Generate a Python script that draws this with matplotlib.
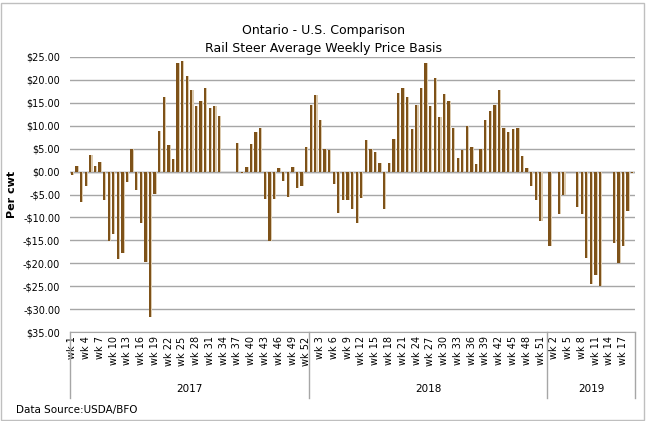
import numpy as np
import matplotlib
matplotlib.use("Agg")
import matplotlib.pyplot as plt
from matplotlib import font_manager
from matplotlib.patches import Rectangle
from matplotlib.lines import Line2D

# Narrow font if we have it, close to the Calibri look of the original
names = {f.name for f in font_manager.fontManager.ttflist}
fam = "Liberation Sans Narrow" if "Liberation Sans Narrow" in names else "DejaVu Sans"
plt.rcParams["font.family"] = [fam, "DejaVu Sans"]

nan = np.nan

# Weekly price basis ($/cwt), Ontario minus U.S.
years = ["2017", "2018", "2019"]
y2017 = [-0.7, 1.2, -6.6, -3.1, 3.6, 1.2, 2.0, -6.2, -15.1, -13.6, -19.0, -17.8, -2.2,
         4.9, -4.0, -11.2, -19.7, -31.7, -4.9, 8.8, 16.2, 5.7, 2.7, 23.6, 24.0, 20.9,
         17.7, 14.2, 15.3, 18.1, 13.8, 14.2, 12.2, nan, nan, nan, 6.2, -0.4, 0.9, 5.9,
         8.6, 9.6, -5.9, -15.1, -5.9, 0.7, -2.0, -5.5, 1.1, -3.6, -3.1, 5.3]
y2018 = [14.4, 16.6, 11.2, 4.9, 4.6, -2.7, -9.0, -6.2, -6.2, -8.1, -11.2, -5.7, 6.8,
         4.9, 4.2, 1.8, -8.1, 1.8, 7.2, 17.2, 18.3, 16.2, 9.2, 14.4, 18.1, 23.6,
         14.2, 20.3, 11.8, 17.0, 15.3, 9.6, 2.9, 4.6, 9.9, 5.3, 1.6, 4.9, 11.2, 13.1,
         14.4, 17.7, 9.4, 8.6, 9.2, 9.6, 3.3, 0.7, -3.1, -6.2, -10.7, nan]
y2019 = [-16.2, nan, -9.2, -5.1, nan, nan, -7.7, -9.2, -18.8, -24.4, -22.5, -25.0,
         nan, nan, -15.5, -19.9, -16.2, -8.6, -0.4]
series = [y2017, y2018, y2019]

ytick_vals = list(range(25, -40, -5))
ytick_labels = ["$25.00", "$20.00", "$15.00", "$10.00", "$5.00", "$0.00", "-$5.00",
                "-$10.00", "-$15.00", "-$20.00", "-$25.00", "-$30.00", "$35.00"]

# Flatten into one category axis
values = []
weeks = []
for s in series:
    values += s
    weeks += list(range(1, len(s) + 1))
x = np.arange(len(values))
vals = np.array(values, dtype=float)

fig = plt.figure(figsize=(6.47, 4.21), dpi=100)
ax = fig.add_axes([0.108, 0.211, 0.873, 0.654])

# bars with a light shadow strip on the right side
ax.bar(x + 0.18, vals, width=0.5, color="#DCCBB0", zorder=2)
ax.bar(x - 0.05, vals, width=0.5, color="#7E5219", zorder=3)

ax.set_xlim(-0.5, len(values) - 0.5)
ax.set_ylim(-35, 25)
ax.set_yticks(ytick_vals)
ax.set_yticklabels(ytick_labels, fontsize=7)
ax.tick_params(axis="y", length=0, pad=7)
ax.grid(axis="y", color="#A6A6A6", linewidth=1, zorder=0)
ax.axhline(0, color="#8C8C8C", linewidth=1, zorder=1)

ticks = x[::3]
ax.set_xticks(ticks)
ax.set_xticklabels([f"wk {weeks[i]}" for i in ticks], rotation=90, fontsize=7)
ax.tick_params(axis="x", length=0, pad=3)

for side in ["top", "right", "left"]:
    ax.spines[side].set_visible(False)
ax.spines["bottom"].set_color("#A6A6A6")

# year groups under the week labels
trans = ax.get_xaxis_transform()
start = 0
edges = [-0.5]
for yr, s in zip(years, series):
    end = start + len(s)
    ax.text((start + end - 1) / 2, -0.205, yr, transform=trans, ha="center",
            va="center", fontsize=7.5)
    edges.append(end - 0.5)
    start = end
for e in edges:
    ax.add_line(Line2D([e, e], [0, -0.24], transform=trans, color="#A6A6A6",
                       linewidth=1, clip_on=False))

ax.set_ylabel("Per cwt", fontsize=8, fontweight="bold", labelpad=4)

fig.text(0.5, 0.928, "Ontario - U.S. Comparison", ha="center", va="center", fontsize=9)
fig.text(0.5, 0.884, "Rail Steer Average Weekly Price Basis", ha="center",
         va="center", fontsize=9)
fig.text(0.025, 0.026, "Data Source:USDA/BFO", ha="left", va="center", fontsize=7.5)

# outer chart frame
fig.patches.append(Rectangle((0.002, 0.002), 0.994, 0.992, transform=fig.transFigure,
                             fill=False, edgecolor="#BFBFBF", linewidth=1))

fig.savefig("out.png", dpi=100)
